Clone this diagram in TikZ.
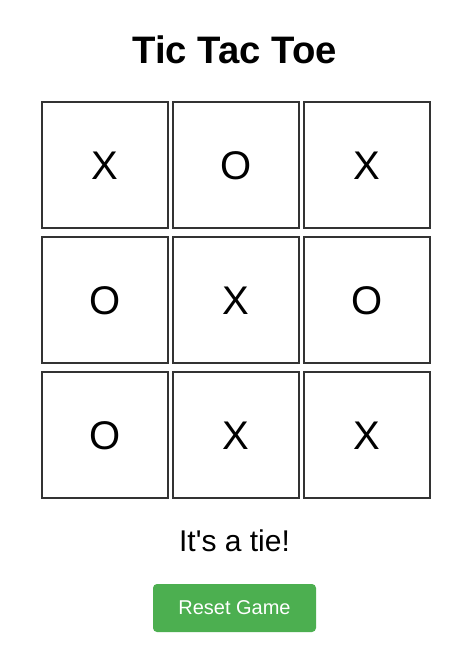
\documentclass[tikz,border=0pt]{standalone}
\usepackage{fontspec}
\setmainfont{Liberation Sans}
\definecolor{cellborder}{HTML}{333333}
\definecolor{btngreen}{HTML}{4CAF50}
\tikzset{
  cell/.style={draw=cellborder, line width=2pt, fill=white},
  marktext/.style={anchor=base, inner sep=0pt, font=\fontsize{40}{48}\selectfont},
  titletext/.style={anchor=base, inner sep=0pt, font=\fontsize{38.3}{46}\selectfont\bfseries},
  statustext/.style={anchor=base, inner sep=0pt, font=\fontsize{30}{36}\selectfont},
  btntext/.style={anchor=base, inner sep=0pt, text=white, font=\fontsize{20}{24}\selectfont},
  button/.style={fill=btngreen, rounded corners=4pt}
}
\begin{document}
\begin{tikzpicture}[x=1pt,y=-1pt]
\useasboundingbox[fill=white] (0,0) rectangle (462,668);
\node[titletext] (title) at (234.7,64) {Tic Tac Toe};
% cells
\foreach \r/\y in {1/102,2/237,3/372}{
  \foreach \c/\x in {1/42,2/173,3/304}{
    \draw[cell] (\x,\y) rectangle ++(126,126);
  }
}
\node[marktext] (m11) at (105,179.5) {X};
\node[marktext] (m12) at (236,179.5) {O};
\node[marktext] (m13) at (367,179.5) {X};
\node[marktext] (m21) at (105,314.5) {O};
\node[marktext] (m22) at (236,314.5) {X};
\node[marktext] (m23) at (367,314.5) {O};
\node[marktext] (m31) at (105,449.5) {O};
\node[marktext] (m32) at (236,449.5) {X};
\node[marktext] (m33) at (367,449.5) {X};
\node[statustext] (status) at (234.5,551.7) {It\textquotesingle s a tie!};
\fill[button] (153,584) rectangle (316,632);
\node[btntext] (reset) at (234.5,614) {Reset Game};
\end{tikzpicture}
\end{document}
